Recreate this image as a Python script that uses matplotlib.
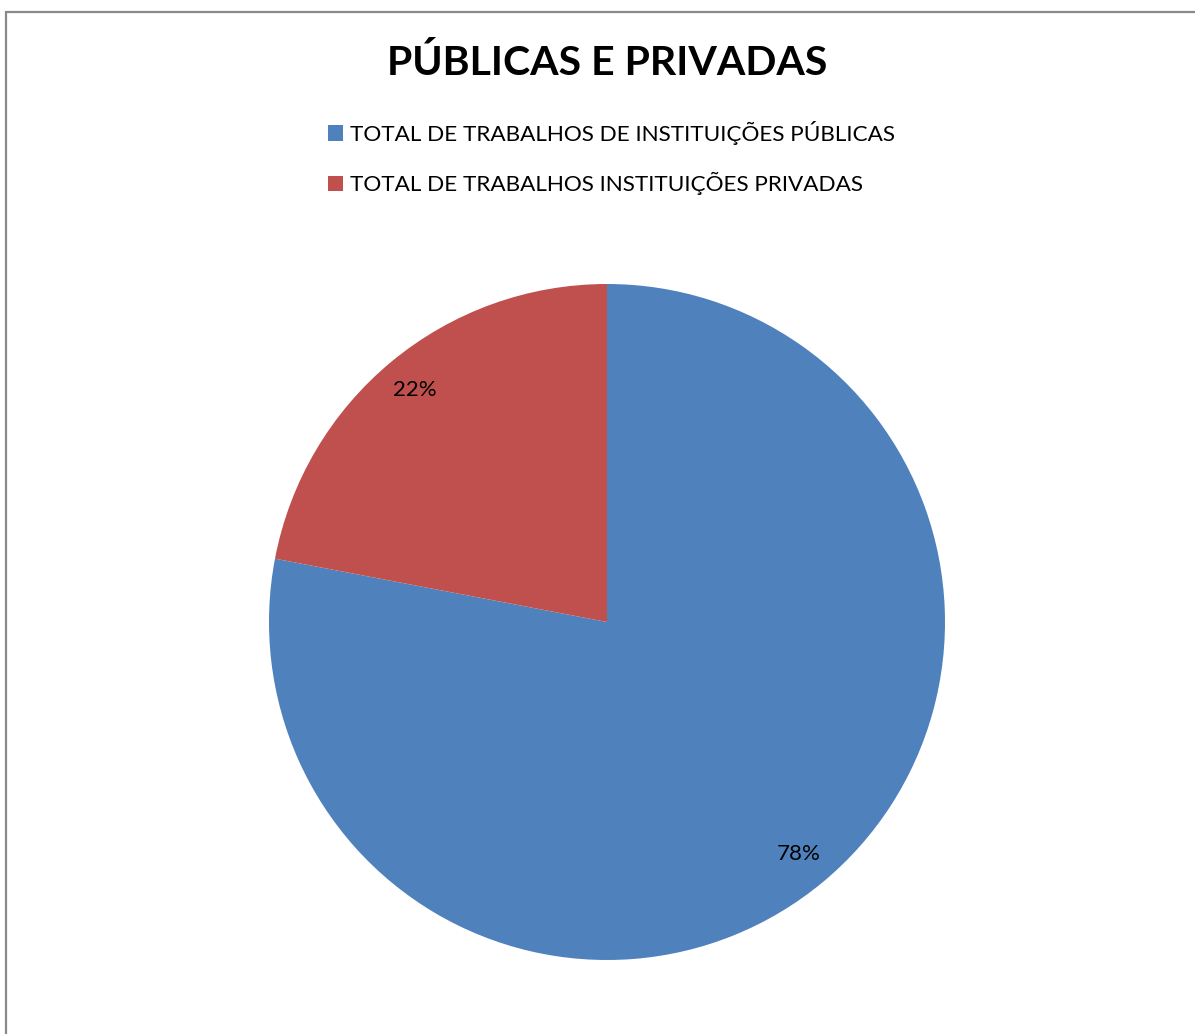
import matplotlib
matplotlib.use("Agg")
import matplotlib.pyplot as plt
from matplotlib.patches import Rectangle

categorias = ["TOTAL DE TRABALHOS DE INSTITUIÇÕES PÚBLICAS",
              "TOTAL DE TRABALHOS INSTITUIÇÕES PRIVADAS"]
valores = [78, 22]
cores = ["#4F81BD", "#C0504D"]
titulo = "PÚBLICAS E PRIVADAS"

plt.rcParams['font.family'] = ['Lato', 'DejaVu Sans']

W, H = 1195, 1034
fig = plt.figure(figsize=(W / 100, H / 100), dpi=100)
fig.patch.set_facecolor('white')

# moldura cinza (lado direito e baixo ficam fora da imagem)
fig.add_artist(Rectangle((6.5 / W, -0.1), 1.2, (H - 11.5) / H + 0.1,
                         transform=fig.transFigure, fill=False,
                         ec='#898989', lw=1.6))

# pizza: centro (607, 622) px, raio 338 px
cx, cy, r = 607, H - 622, 338
ax = fig.add_axes([(cx - r) / W, (cy - r) / H, 2 * r / W, 2 * r / H])
fatias, _, pct = ax.pie(valores, colors=cores, startangle=90, counterclock=False,
                        autopct='%1.0f%%', pctdistance=0.89, radius=1,
                        textprops={'fontsize': 16, 'color': 'black'},
                        wedgeprops={'linewidth': 0})
ax.set_xlim(-1, 1)
ax.set_ylim(-1, 1)
ax.set_aspect('auto')
ax.axis('off')

fig.text(607 / W, 1 - 63 / H, titulo, ha='center', va='center',
         fontsize=29.5, fontweight='bold')

fig.legend(fatias, categorias, loc='upper left',
           bbox_to_anchor=(328 / W, 1 - 121 / H), frameon=False,
           fontsize=16.2, handlelength=0.68, handleheight=0.68,
           handletextpad=0.3, labelspacing=1.2, borderpad=0, borderaxespad=0)

fig.savefig("out.png", dpi=100)
